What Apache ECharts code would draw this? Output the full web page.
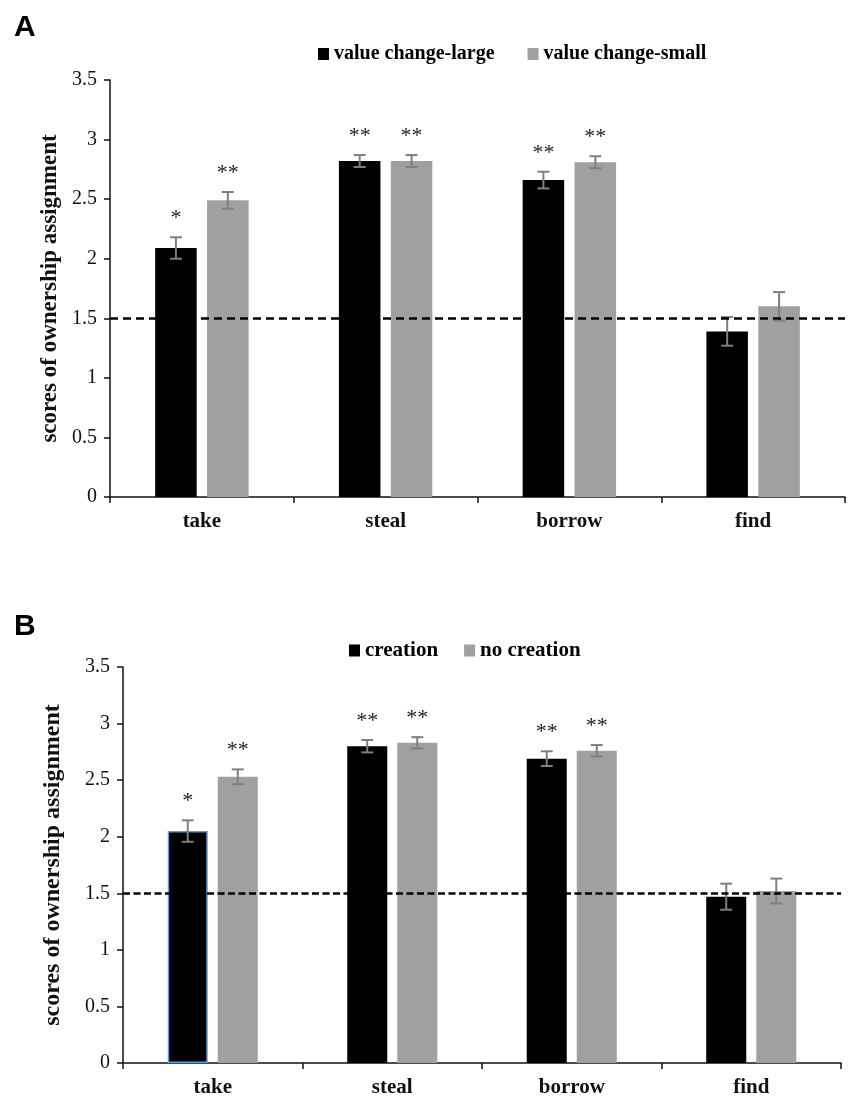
<!DOCTYPE html>
<html>
<head>
<meta charset="utf-8">
<script src="https://cdn.jsdelivr.net/npm/echarts@6/dist/echarts.min.js"></script>
<style>
  html, body { margin: 0; padding: 0; background: #fff; }
  #main { width: 854px; height: 1100px; }
</style>
</head>
<body>
<div id="main"></div>
<script>
// categories shared by both panels
var categories = ['take', 'steal', 'borrow', 'find'];
var yTicks = [0, 3.5, 0.5];   // min, max, step
var chanceLevel = 1.5;

// panel A
var aLargeName = 'value change-large';
var aSmallName = 'value change-small';
var aLarge = [2.09, 2.82, 2.66, 1.39];
var aLargeErr = [0.09, 0.05, 0.07, 0.12];
var aLargeStars = ['*', '**', '**', ''];
var aSmall = [2.49, 2.82, 2.81, 1.60];
var aSmallErr = [0.07, 0.05, 0.05, 0.12];
var aSmallStars = ['**', '**', '**', ''];

// panel B
var bCreationName = 'creation';
var bNoCreationName = 'no creation';
var bCreation = [2.05, 2.80, 2.69, 1.47];
var bCreationErr = [0.095, 0.055, 0.065, 0.115];
var bCreationStars = ['*', '**', '**', ''];
var bNoCreation = [2.53, 2.83, 2.76, 1.52];
var bNoCreationErr = [0.065, 0.05, 0.05, 0.11];
var bNoCreationStars = ['**', '**', '**', ''];

var serif = '"Liberation Serif", "Times New Roman", serif';
var BAR_GAP = 0.25;

var chart = echarts.init(document.getElementById('main'));

// error bars + significance stars, drawn over the bar of one side of the pair
function errorSeries(vals, errs, stars, side, pct, idx) {
    return {
        type: 'custom',
        xAxisIndex: idx,
        yAxisIndex: idx,
        z: 4,
        silent: true,
        clip: false,
        data: vals.map(function (v, i) { return [i, v, errs[i]]; }),
        renderItem: function (params, api) {
            var i = api.value(0), v = api.value(1), e = api.value(2);
            var c = api.coord([i, v]);
            var catW = api.size([1, 0])[0];
            var w = catW * pct, g = w * BAR_GAP;
            var x = c[0] + side * (w + g) / 2;
            var top = api.coord([i, v + e])[1];
            var bot = api.coord([i, v - e])[1];
            var st = { stroke: '#7f7f7f', lineWidth: 2 };
            return {
                type: 'group',
                children: [
                    { type: 'line', shape: { x1: x, y1: top, x2: x, y2: bot }, style: st },
                    { type: 'line', shape: { x1: x - 6, y1: top, x2: x + 6, y2: top }, style: st },
                    { type: 'line', shape: { x1: x - 6, y1: bot, x2: x + 6, y2: bot }, style: st },
                    {
                        type: 'text',
                        style: {
                            x: x, y: top - 19, text: stars[params.dataIndex],
                            fill: '#222', font: '22px ' + serif,
                            align: 'center', verticalAlign: 'middle'
                        }
                    }
                ]
            };
        }
    };
}

function barSeries(name, vals, color, pct, idx, withLine, dash) {
    var s = {
        name: name,
        type: 'bar',
        xAxisIndex: idx,
        yAxisIndex: idx,
        barWidth: (pct * 100) + '%',
        barGap: (BAR_GAP * 100) + '%',
        itemStyle: { color: color },
        emphasis: { disabled: true },
        data: vals
    };
    if (withLine) {
        s.markLine = {
            silent: true,
            symbol: 'none',
            label: { show: false },
            lineStyle: { color: '#000', type: dash, width: 2.5 },
            data: [{ yAxis: chanceLevel }]
        };
    }
    return s;
}

function xAxisFor(idx) {
    return {
        type: 'category',
        gridIndex: idx,
        data: categories,
        axisLine: { lineStyle: { color: '#111', width: 1.5 } },
        axisTick: { show: true, length: 6, lineStyle: { color: '#111', width: 1.5 } },
        axisLabel: { color: '#111', fontFamily: serif, fontWeight: 'bold', fontSize: 21, margin: 14 }
    };
}

function yAxisFor(idx, nameSize, gap) {
    return {
        type: 'value',
        gridIndex: idx,
        min: yTicks[0],
        max: yTicks[1],
        interval: yTicks[2],
        name: 'scores of ownership assignment',
        nameLocation: 'middle',
        nameRotate: 90,
        nameGap: gap,
        nameTextStyle: { color: '#111', fontFamily: serif, fontWeight: 'bold', fontSize: nameSize },
        splitLine: { show: false },
        axisLine: { show: true, lineStyle: { color: '#111', width: 1.5 } },
        axisTick: { show: true, length: 6, lineStyle: { color: '#111', width: 1.5 } },
        axisLabel: { color: '#111', fontFamily: serif, fontSize: 20, margin: 13 }
    };
}

var pctA = 0.226, pctB = 0.223;

chart.setOption({
    animation: false,
    backgroundColor: '#fff',
    title: [
        { text: 'A', left: 9, top: 8, textStyle: { fontFamily: '"Liberation Sans", Arial, sans-serif', fontWeight: 'bold', fontSize: 30, color: '#000' } },
        { text: 'B', left: 9, top: 607, textStyle: { fontFamily: '"Liberation Sans", Arial, sans-serif', fontWeight: 'bold', fontSize: 30, color: '#000' } }
    ],
    legend: [
        {
            data: [aLargeName, aSmallName],
            left: 313, top: 39,
            icon: 'rect', itemWidth: 11, itemHeight: 12, itemGap: 33,
            textStyle: { color: '#000', fontFamily: serif, fontWeight: 'bold', fontSize: 20 }
        },
        {
            data: [bCreationName, bNoCreationName],
            left: 344, top: 635,
            icon: 'rect', itemWidth: 11, itemHeight: 12, itemGap: 26,
            textStyle: { color: '#000', fontFamily: serif, fontWeight: 'bold', fontSize: 21 }
        }
    ],
    grid: [
        { left: 110, top: 80, width: 735, height: 417 },
        { left: 123, top: 667, width: 718, height: 396 }
    ],
    xAxis: [xAxisFor(0), xAxisFor(1)],
    yAxis: [yAxisFor(0, 23, 48), yAxisFor(1, 24, 58)],
    series: [
        barSeries(aLargeName, aLarge, '#000000', pctA, 0, false),
        barSeries(aSmallName, aSmall, '#a0a0a0', pctA, 0, true, [8, 5]),
        errorSeries(aLarge, aLargeErr, aLargeStars, -1, pctA, 0),
        errorSeries(aSmall, aSmallErr, aSmallStars, 1, pctA, 0),
        barSeries(bCreationName, bCreation.map(function (v, i) {
            // first bar of panel B carries a thin blue outline in the source figure
            return i === 0 ? { value: v, itemStyle: { borderColor: '#5b9bd5', borderWidth: 1.5 } } : v;
        }), '#000000', pctB, 1, false),
        barSeries(bNoCreationName, bNoCreation, '#a0a0a0', pctB, 1, true, [7, 3.5]),
        errorSeries(bCreation, bCreationErr, bCreationStars, -1, pctB, 1),
        errorSeries(bNoCreation, bNoCreationErr, bNoCreationStars, 1, pctB, 1)
    ]
});
</script>
</body>
</html>
